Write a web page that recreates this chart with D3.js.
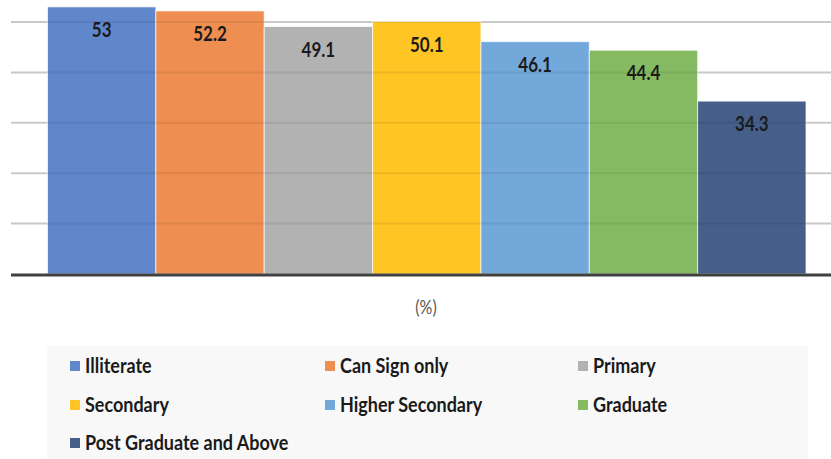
<!DOCTYPE html>
<html>
<head>
<meta charset="utf-8">
<script src="https://cdn.jsdelivr.net/npm/d3@7/dist/d3.min.js"></script>
<style>
  html, body { margin: 0; padding: 0; background: #fff; }
  svg { display: block; }
</style>
</head>
<body>
<svg id="chart" width="831" height="459"></svg>
<script>
const categories = ["Illiterate", "Can Sign only", "Primary", "Secondary", "Higher Secondary", "Graduate", "Post Graduate and Above"];
const values = [53, 52.2, 49.1, 50.1, 46.1, 44.4, 34.3];
const colors = ["#6087cb", "#ee8e50", "#b2b2b2", "#fec524", "#73a8da", "#86ba62", "#455f8a"];
const gridTicks = [10, 20, 30, 40, 50];
const axisTitle = "(%)";

const svg = d3.select("#chart");
const font = "Lato, 'Open Sans', sans-serif";

const x = d3.scaleBand().domain(categories).range([47.5, 806]).padding(0);
const y = d3.scaleLinear().domain([0, 50]).range([274, 22]);

// gridlines behind
svg.append("g").selectAll("line").data(gridTicks).join("line")
  .attr("x1", 11).attr("x2", 831)
  .attr("y1", d => y(d)).attr("y2", d => y(d))
  .attr("stroke", "#d9d9d9").attr("stroke-width", 2);

// bars
svg.append("g").selectAll("rect").data(categories).join("rect")
  .attr("x", d => x(d))
  .attr("y", (d, i) => y(values[i]))
  .attr("width", x.bandwidth())
  .attr("height", (d, i) => y(0) - y(values[i]))
  .attr("fill", (d, i) => colors[i])
  .attr("stroke", "rgba(255,255,255,0.7)")
  .attr("stroke-width", 1);

// gridlines seen through bars
svg.append("g").selectAll("line").data(gridTicks).join("line")
  .attr("x1", 11).attr("x2", 831)
  .attr("y1", d => y(d)).attr("y2", d => y(d))
  .attr("stroke", "rgba(0,0,0,0.07)").attr("stroke-width", 2);

// baseline
svg.append("line")
  .attr("x1", 11).attr("x2", 831)
  .attr("y1", y(0) + 1).attr("y2", y(0) + 1)
  .attr("stroke", "#404040").attr("stroke-width", 3);

// value labels
svg.append("g").selectAll("text").data(categories).join("text")
  .attr("transform", (d, i) => `translate(${x(d) + x.bandwidth() / 2},${y(values[i]) + 23}) scale(1,1.2)`)
  .attr("dy", "0.35em")
  .attr("text-anchor", "middle")
  .attr("font-family", font)
  .attr("font-weight", "bold")
  .attr("font-size", 17)
  .attr("fill", "#1a1a1a")
  .text((d, i) => values[i]);

// axis title
svg.append("text")
  .attr("transform", "translate(426,308) scale(1,1.15)")
  .attr("dy", "0.35em")
  .attr("text-anchor", "middle")
  .attr("font-family", font).attr("font-size", 16)
  .attr("fill", "#595959")
  .text(axisTitle);

// legend
svg.append("rect")
  .attr("x", 47).attr("y", 346).attr("width", 761).attr("height", 113)
  .attr("fill", "#f8f8f8");

const colX = [70, 325, 578];
const rowY = [366, 405, 443];
const leg = svg.append("g").selectAll("g").data(categories).join("g")
  .attr("transform", (d, i) => `translate(${colX[i % 3]},${rowY[Math.floor(i / 3)]})`);
leg.append("rect")
  .attr("x", 0).attr("y", -5).attr("width", 10).attr("height", 10)
  .attr("fill", (d, i) => colors[i]);
leg.append("text")
  .attr("transform", "translate(15,0) scale(1,1.15)")
  .attr("dy", "0.35em")
  .attr("font-family", font).attr("font-weight", "bold").attr("font-size", 18)
  .attr("fill", "#1a1a1a")
  .text(d => d);
</script>
</body>
</html>
